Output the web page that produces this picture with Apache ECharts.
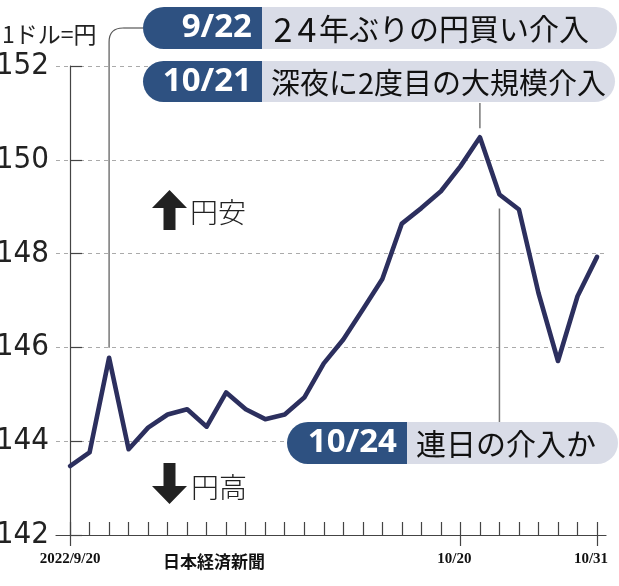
<!DOCTYPE html>
<html>
<head>
<meta charset="utf-8">
<script src="https://cdn.jsdelivr.net/npm/echarts@6/dist/echarts.min.js"></script>
<style>
  html, body { margin: 0; padding: 0; background: #fff; }
  #main { width: 619px; height: 586px; }
</style>
</head>
<body>
<div id="main"></div>
<script>
// 日付(東京市場の営業日)
const dates = [
  '2022/9/20', '9/21', '9/22', '9/26', '9/27', '9/28', '9/29', '9/30',
  '10/3', '10/4', '10/5', '10/6', '10/7',
  '10/11', '10/12', '10/13', '10/14',
  '10/17', '10/18', '10/19', '10/20', '10/21',
  '10/24', '10/25', '10/26', '10/27', '10/28', '10/31'
];
// 1ドル=円
const rates = [
  143.47, 143.76, 145.78, 143.83, 144.29, 144.57, 144.68, 144.31,
  145.04, 144.68, 144.47, 144.57, 144.93,
  145.66, 146.17, 146.81, 147.46,
  148.64, 148.97, 149.33, 149.86, 150.48,
  149.26, 148.94, 147.16, 145.71, 147.09, 147.93
];
const yTicks = [142, 144, 146, 148, 150, 152];
const labelDates = ['2022/9/20', '10/20', '10/31'];

// 注記
const notes = [
  { date: '9/22', text: '24年ぶりの円買い介入' },
  { date: '10/21', text: '深夜に2度目の大規模介入' },
  { date: '10/24', text: '連日の介入か' }
];

const NAVY = '#2e5181';
const LIGHT = '#d9dce7';
const LINE = '#2c2f5e';
const GOTHIC = '"Noto Sans CJK JP", "Noto Sans", sans-serif';

const labelIdx = labelDates.map(d => dates.indexOf(d));
const tickIdx = dates.map((d, i) => i);
const seriesData = rates.map((v, i) => [i, v]);

const chart = echarts.init(document.getElementById('main'), null, { renderer: 'canvas' });

const xBase = {
  type: 'value',
  min: -0.72,
  max: 27.46,
  splitLine: { show: false }
};

chart.setOption({
  animation: false,
  backgroundColor: '#fff',
  grid: { left: 56, right: 13, top: 66, bottom: 51, containLabel: false, outerBoundsMode: 'none' },
  xAxis: [
    Object.assign({}, xBase, {
      axisLine: { show: true, lineStyle: { color: '#444', width: 1.2 } },
      axisTick: {
        show: true, inside: true, length: 13,
        customValues: tickIdx,
        lineStyle: { color: '#444', width: 1.2 }
      },
      axisLabel: {
        show: true,
        customValues: labelIdx,
        margin: 17,
        formatter: v => {
          const d = dates[Math.round(v)];
          return d === labelDates[0] ? '{a|' + d + '}' : '{b|' + d + '}';
        },
        rich: {
          a: { fontFamily: '"Liberation Serif", serif', fontWeight: 'bold', fontSize: 15, color: '#111' },
          b: { fontFamily: '"Liberation Serif", serif', fontWeight: 'bold', fontSize: 15, color: '#111', padding: [0, 12, 0, 0] }
        }
      }
    }),
    Object.assign({}, xBase, {
      position: 'bottom',
      axisLine: { show: false },
      axisTick: {
        show: true, inside: false, length: 11,
        customValues: labelIdx,
        lineStyle: { color: '#444', width: 1.2 }
      },
      axisLabel: { show: false }
    })
  ],
  yAxis: {
    type: 'value',
    min: yTicks[0],
    max: yTicks[yTicks.length - 1],
    interval: 2,
    axisLine: { show: true, lineStyle: { color: '#444', width: 1.2 } },
    axisTick: { show: true, inside: true, length: 12, lineStyle: { color: '#444', width: 1.2 } },
    axisLabel: {
      margin: 7,
      fontFamily: '"Liberation Sans Narrow", "DejaVu Sans Condensed", sans-serif',
      fontSize: 31,
      color: '#222'
    },
    splitLine: {
      show: true,
      lineStyle: { color: '#aaa', type: [4, 4], width: 1 }
    }
  },
  series: [{
    type: 'line',
    data: seriesData,
    showSymbol: false,
    lineStyle: { color: LINE, width: 4.6, cap: 'round', join: 'round' },
    z: 5
  }]
});

// 注記の位置はデータ点から求める
const px = d => chart.convertToPixel({ xAxisIndex: 0, yAxisIndex: 0 }, [dates.indexOf(d), rates[dates.indexOf(d)]]);

function pill(y, h, x0, split, x1, note, fontSize, digitWidth) {
  const r = h / 2;
  // 数字を広めに組む場合は rich で幅を指定
  const body = digitWidth ? note.text.replace(/(\d)/g, '{n|$1}') : note.text;
  return [
    { type: 'rect', shape: { x: x0, y: y, width: split - x0, height: h, r: [r, 0, 0, r] }, style: { fill: NAVY }, z: 20 },
    { type: 'rect', shape: { x: split, y: y, width: x1 - split, height: h, r: [0, r, r, 0] }, style: { fill: LIGHT }, z: 20 },
    { type: 'text', x: split - 10, y: y + h / 2, z: 21,
      style: { text: note.date, fill: '#fff', font: 'bold 33px "Noto Sans", sans-serif', align: 'right', verticalAlign: 'middle' } },
    { type: 'text', x: split + 9, y: y + h / 2 + 1, z: 21,
      style: {
        text: body, fill: '#111', font: fontSize + 'px ' + GOTHIC, align: 'left', verticalAlign: 'middle',
        rich: { n: { width: digitWidth || 0, align: 'center', fontSize: fontSize + 4, fontFamily: GOTHIC, fill: '#111' } }
      } }
  ];
}

const p922 = px('9/22');
const p1021 = px('10/21');
const p1024 = px('10/24');
const LEAD = { stroke: '#555', lineWidth: 1.2, fill: null };

const elements = [
  { type: 'text', x: 2, y: 34, style: { text: '1ドル=円', fill: '#222', font: '23px ' + GOTHIC, verticalAlign: 'middle' } },
  // 9/22 引き出し線
  { type: 'line', z: 15, shape: { x1: 143, y1: 28, x2: p922[0] + 14, y2: 28 }, style: LEAD },
  { type: 'bezierCurve', z: 15,
    shape: { x1: p922[0] + 14, y1: 28, cpx1: p922[0], cpy1: 28, x2: p922[0], y2: 42 },
    style: LEAD },
  { type: 'line', z: 15, shape: { x1: p922[0], y1: 42, x2: p922[0], y2: p922[1] - 10 }, style: LEAD },
  // 10/21 引き出し線
  { type: 'line', z: 15, shape: { x1: p1021[0], y1: 103, x2: p1021[0], y2: p1021[1] - 9 }, style: LEAD },
  // 10/24 引き出し線
  { type: 'line', z: 15, shape: { x1: p1024[0], y1: p1024[1] + 14, x2: p1024[0], y2: 422 }, style: { stroke: '#777', lineWidth: 1.5 } },
  // 円安 矢印
  { type: 'polygon', z: 15, shape: { points: [[169.5, 190], [187, 208], [175.5, 208], [175.5, 230], [163.5, 230], [163.5, 208], [152, 208]] }, style: { fill: '#222' } },
  { type: 'text', x: 190, y: 212, style: { text: '円安', fill: '#222', font: '300 28px ' + GOTHIC, verticalAlign: 'middle' } },
  // 円高 矢印
  { type: 'polygon', z: 15, shape: { points: [[163.5, 463], [175.5, 463], [175.5, 486], [187, 486], [169.5, 504], [152, 486], [163.5, 486]] }, style: { fill: '#222' } },
  { type: 'text', x: 191, y: 487, style: { text: '円高', fill: '#222', font: '300 28px ' + GOTHIC, verticalAlign: 'middle' } },
  // 出所
  { type: 'text', x: 163, y: 562, style: { text: '日本経済新聞', fill: '#111', font: 'bold 17px ' + GOTHIC, verticalAlign: 'middle' } }
]
  .concat(pill(7, 42, 143, 262, 617, notes[0], 30, 24))
  .concat(pill(61, 41, 143, 262, 615, notes[1], 29))
  .concat(pill(422, 42, 287, 407, 618, notes[2], 30));

chart.setOption({ graphic: { elements: elements } });
</script>
</body>
</html>
